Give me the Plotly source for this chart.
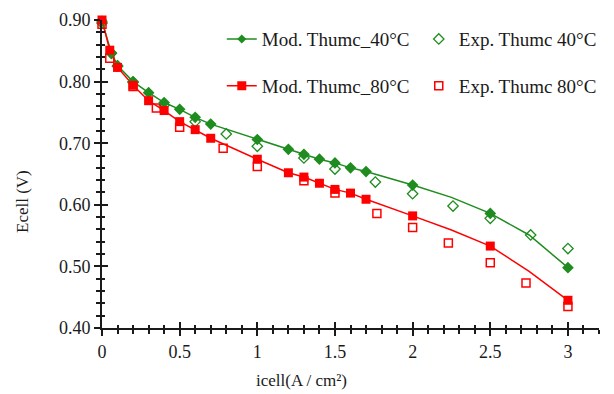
import plotly.graph_objects as go

# ---- data ----
mod40_x = [0, 0.06, 0.1, 0.2, 0.3, 0.4, 0.5, 0.6, 0.7, 1.0, 1.2, 1.3, 1.4, 1.5, 1.6, 1.7, 2.0, 2.5, 3.0]
mod40_y = [0.898, 0.847, 0.826, 0.800, 0.782, 0.766, 0.755, 0.742, 0.731, 0.706, 0.690, 0.682, 0.674,
           0.668, 0.660, 0.654, 0.632, 0.586, 0.498]
mod40_line_x = [0, 0.06, 0.1, 0.2, 0.3, 0.4, 0.5, 0.6, 0.7, 1.0, 1.2, 1.3, 1.4, 1.5, 1.6, 1.7, 2.0, 2.25, 2.5, 2.75, 3.0]
mod40_line_y = [0.898, 0.847, 0.826, 0.800, 0.782, 0.766, 0.755, 0.742, 0.731, 0.706, 0.690, 0.682, 0.674,
                0.668, 0.660, 0.654, 0.632, 0.612, 0.586, 0.551, 0.498]

mod80_x = [0, 0.05, 0.1, 0.2, 0.3, 0.4, 0.5, 0.6, 0.7, 1.0, 1.2, 1.3, 1.4, 1.5, 1.6, 1.7, 2.0, 2.5, 3.0]
mod80_y = [0.900, 0.851, 0.823, 0.794, 0.769, 0.753, 0.735, 0.722, 0.708, 0.674, 0.652, 0.645, 0.635,
           0.625, 0.619, 0.609, 0.582, 0.533, 0.445]
mod80_line_x = [0, 0.05, 0.1, 0.2, 0.3, 0.4, 0.5, 0.6, 0.7, 1.0, 1.2, 1.3, 1.4, 1.5, 1.6, 1.7, 2.0, 2.25, 2.5, 2.75, 3.0]
mod80_line_y = [0.900, 0.851, 0.823, 0.794, 0.769, 0.753, 0.735, 0.722, 0.708, 0.674, 0.652, 0.645, 0.635,
                0.625, 0.619, 0.609, 0.582, 0.559, 0.533, 0.492, 0.445]

exp40_x = [0, 0.06, 0.1, 0.2, 0.4, 0.6, 0.8, 1.0, 1.3, 1.5, 1.76, 2.0, 2.26, 2.5, 2.76, 3.0]
exp40_y = [0.895, 0.846, 0.825, 0.799, 0.762, 0.735, 0.715, 0.695, 0.676, 0.658, 0.637, 0.618,
           0.598, 0.578, 0.551, 0.529]

exp80_x = [0, 0.05, 0.2, 0.35, 0.5, 0.78, 1.0, 1.3, 1.5, 1.77, 2.0, 2.23, 2.5, 2.73, 3.0]
exp80_y = [0.893, 0.838, 0.792, 0.757, 0.726, 0.692, 0.662, 0.639, 0.619, 0.586, 0.563, 0.538,
           0.506, 0.473, 0.435]

x_ticks = [0, 0.5, 1, 1.5, 2, 2.5, 3]
x_tick_text = ["0", "0.5", "1", "1.5", "2", "2.5", "3"]
y_ticks = [0.4, 0.5, 0.6, 0.7, 0.8, 0.9]
y_tick_text = ["0.40", "0.50", "0.60", "0.70", "0.80", "0.90"]

names = ["Mod. Thumc_40°C", "Exp. Thumc 40°C", "Mod. Thumc_80°C", "Exp. Thumc 80°C"]
x_title = "icell(A / cm²)"
y_title = "Ecell (V)"

GREEN = "#1e8c1e"
RED = "#ff0000"
FONT = "Liberation Serif"
INK = "#1a1a1a"

fig = go.Figure()

fig.add_trace(go.Scatter(x=mod40_line_x, y=mod40_line_y, mode="lines",
                         line=dict(color=GREEN, width=1.5), showlegend=False, cliponaxis=False))
fig.add_trace(go.Scatter(x=mod80_line_x, y=mod80_line_y, mode="lines",
                         line=dict(color=RED, width=1.5), showlegend=False, cliponaxis=False))
fig.add_trace(go.Scatter(x=exp40_x, y=exp40_y, mode="markers", name=names[1],
                         marker=dict(symbol="diamond-open", size=8, color=GREEN, line=dict(width=1.3)),
                         legend="legend", cliponaxis=False))
fig.add_trace(go.Scatter(x=exp80_x, y=exp80_y, mode="markers", name=names[3],
                         marker=dict(symbol="square-open", size=8, color=RED, line=dict(width=1.5)),
                         legend="legend2", cliponaxis=False))
fig.add_trace(go.Scatter(x=mod40_x, y=mod40_y, mode="markers", showlegend=False,
                         marker=dict(symbol="diamond", size=9, color=GREEN), cliponaxis=False))
fig.add_trace(go.Scatter(x=mod80_x, y=mod80_y, mode="markers", showlegend=False,
                         marker=dict(symbol="square", size=9, color=RED), cliponaxis=False))
fig.add_trace(go.Scatter(x=[None], y=[None], mode="lines+markers", name=names[0],
                         line=dict(color=GREEN, width=1.5),
                         marker=dict(symbol="diamond", size=7, color=GREEN), legend="legend"))
fig.add_trace(go.Scatter(x=[None], y=[None], mode="lines+markers", name=names[2],
                         line=dict(color=RED, width=1.5),
                         marker=dict(symbol="square", size=9, color=RED), legend="legend2"))
fig.add_trace(go.Scatter(x=[None], y=[None], xaxis="x2", yaxis="y2", showlegend=False, hoverinfo="skip"))

axis_common = dict(showgrid=False, zeroline=False, showline=True, linecolor=INK, linewidth=2,
                   tickcolor=INK, tickwidth=2)

legend_common = dict(orientation="h", x=0.241, xanchor="left", yanchor="middle",
                     entrywidth=152, font=dict(family=FONT, size=19, color=INK),
                     bgcolor="rgba(0,0,0,0)", traceorder="reversed")

fig.update_layout(
    width=614, height=394,
    margin=dict(l=102, r=15, t=20, b=66, autoexpand=False),
    paper_bgcolor="white", plot_bgcolor="white",
    font=dict(family=FONT, size=17, color=INK),
    xaxis=dict(range=[0, 3.2], tickvals=x_ticks, ticktext=x_tick_text, ticks="outside", ticklen=6,
               minor=dict(dtick=0.1, tick0=0, ticks="outside", ticklen=4, tickcolor=INK, tickwidth=1.5),
               tickfont=dict(family=FONT, size=18, color=INK), **axis_common),
    yaxis=dict(range=[0.4, 0.9], tickvals=y_ticks, ticktext=y_tick_text, ticks="outside", ticklen=6,
               minor=dict(dtick=0.02, tick0=0.4, ticks="outside", ticklen=4, tickcolor=INK, tickwidth=1.5),
               tickfont=dict(family=FONT, size=18, color=INK), **axis_common),
    xaxis2=dict(overlaying="x", matches="x", range=[0, 3.2], tickvals=x_ticks, showticklabels=False,
                ticks="inside", ticklen=6, showgrid=False, zeroline=False, showline=False,
                tickcolor=INK, tickwidth=2,
                minor=dict(dtick=0.1, tick0=0, ticks="inside", ticklen=3, tickcolor=INK, tickwidth=1.5)),
    yaxis2=dict(overlaying="y", matches="y", range=[0.4, 0.9], tickvals=y_ticks, showticklabels=False,
                ticks="inside", ticklen=6, showgrid=False, zeroline=False, showline=False,
                tickcolor=INK, tickwidth=2,
                minor=dict(dtick=0.02, tick0=0.4, ticks="inside", ticklen=3, tickcolor=INK, tickwidth=1.5)),
    legend=dict(y=0.938, **legend_common),
    legend2=dict(y=0.786, **legend_common),
    annotations=[
        dict(text=x_title, xref="paper", yref="paper", x=(301 - 102) / 497, y=-(380 - 328) / 308,
             xanchor="center", yanchor="middle", showarrow=False, font=dict(family=FONT, size=17, color=INK)),
        dict(text=y_title, xref="paper", yref="paper", x=-(102 - 23) / 497, y=(328 - 202) / 308,
             xanchor="center", yanchor="middle", textangle=-90, showarrow=False,
             font=dict(family=FONT, size=17, color=INK)),
    ],
)

fig.write_html("out.html")
